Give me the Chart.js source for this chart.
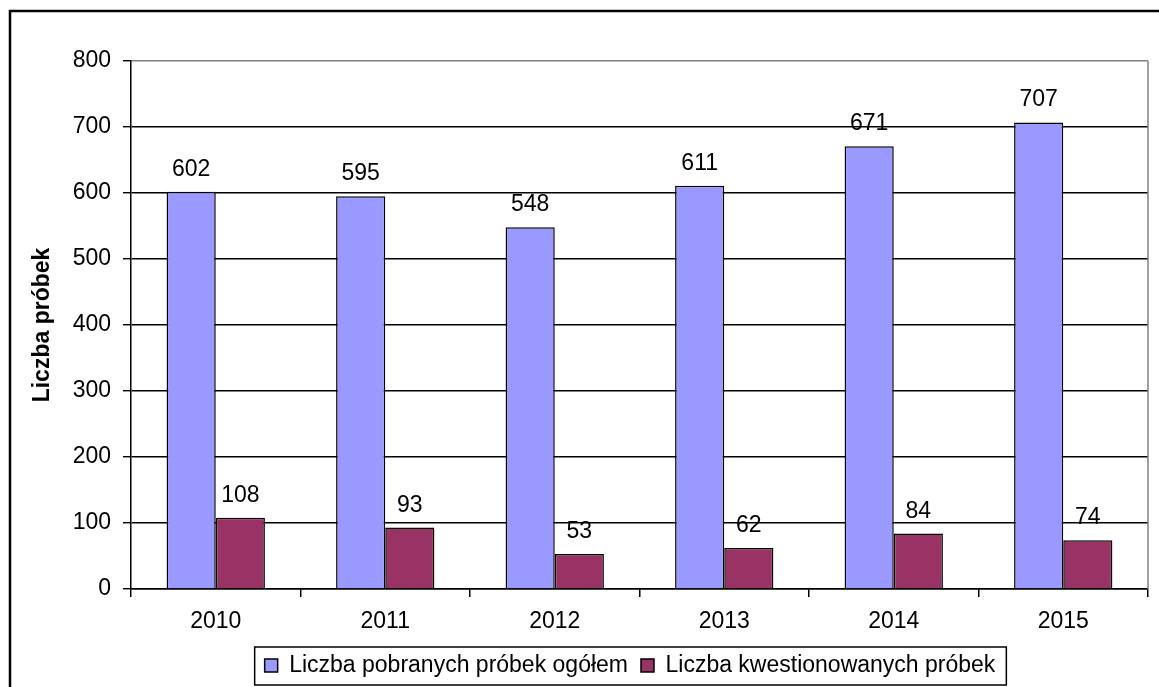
<!DOCTYPE html>
<html>
<head>
<meta charset="utf-8">
<script src="https://cdn.jsdelivr.net/npm/chart.js@4.4.1/dist/chart.umd.min.js"></script>
<style>
html,body{margin:0;padding:0;background:#fff;}
#wrap{position:relative;width:1159px;height:687px;overflow:hidden;}
</style>
</head>
<body>
<div id="wrap"><canvas id="c" width="1159" height="687"></canvas></div>
<script>
const categories = ['2010', '2011', '2012', '2013', '2014', '2015'];
const seriesNames = ['Liczba pobranych próbek ogółem', 'Liczba kwestionowanych próbek'];
const totalSamples = [602, 595, 548, 611, 671, 707];
const questionedSamples = [108, 93, 53, 62, 84, 74];
const yMin = 0, yMax = 800, yStep = 100;
const yTitle = 'Liczba próbek';

const FONT = "'Liberation Sans', Arial, sans-serif";
const FS = 23;
Chart.defaults.font.family = FONT;
Chart.defaults.color = '#000';

const framePlugin = {
  id: 'frame',
  beforeDraw(chart) {
    const ctx = chart.ctx;
    ctx.save();
    ctx.fillStyle = '#fff';
    ctx.fillRect(0, 0, chart.width, chart.height);
    ctx.strokeStyle = '#000';
    ctx.lineWidth = 2.5;
    ctx.beginPath();
    ctx.moveTo(10, chart.height);
    ctx.lineTo(10, 11);
    ctx.lineTo(chart.width, 11);
    ctx.stroke();
    ctx.restore();
  },
  beforeDatasetsDraw(chart) {
    const a = chart.chartArea, ctx = chart.ctx;
    ctx.save();
    ctx.strokeStyle = '#808080';
    ctx.lineWidth = 1.5;
    ctx.beginPath();
    ctx.moveTo(a.right, a.top);
    ctx.lineTo(a.right, a.bottom);
    ctx.stroke();
    ctx.restore();
  },
  afterLayout(chart) {
    const lg = chart.legend;
    const target = 630;
    const cur = (lg.left + lg.right) / 2;
    const d = target - cur;
    lg.left += d; lg.right += d;
  },
  afterDatasetsDraw(chart) {
    const ctx = chart.ctx;
    ctx.save();
    ctx.font = FS + 'px ' + FONT;
    ctx.fillStyle = '#000';
    ctx.textAlign = 'center';
    ctx.textBaseline = 'alphabetic';
    chart.data.datasets.forEach((ds, i) => {
      const meta = chart.getDatasetMeta(i);
      meta.data.forEach((bar, j) => {
        ctx.fillText(String(ds.data[j]), bar.x, bar.y - 16);
      });
    });
    ctx.restore();
  },
  afterDraw(chart) {
    const lg = chart.legend, ctx = chart.ctx;
    const pad = lg.options.labels.padding;
    const W = lg.lineWidths[0] - pad;
    const center = (lg.left + lg.right) / 2;
    const start = center - W / 2;
    ctx.save();
    ctx.strokeStyle = '#000';
    ctx.lineWidth = 1.5;
    ctx.strokeRect(start - 10, 647, W + 21, 38);
    ctx.restore();
  }
};

new Chart(document.getElementById('c'), {
  type: 'bar',
  data: {
    labels: categories,
    datasets: [
      { label: seriesNames[0], data: totalSamples, backgroundColor: '#9999FF', borderColor: '#000', borderWidth: 1.5,
        categoryPercentage: 0.58, barPercentage: 1.0 },
      { label: seriesNames[1], data: questionedSamples, backgroundColor: '#993366', borderColor: '#000', borderWidth: 1.5,
        categoryPercentage: 0.58, barPercentage: 1.0 }
    ]
  },
  options: {
    responsive: false,
    animation: false,
    devicePixelRatio: 1,
    layout: { padding: { left: 26, right: 11, top: 61, bottom: 0 } },
    plugins: {
      legend: {
        position: 'bottom',
        labels: { boxWidth: 13, boxHeight: 13, padding: 13, color: '#000', font: { size: FS } }
      },
      tooltip: { enabled: false }
    },
    scales: {
      x: {
        grid: { offset: true, drawOnChartArea: false, drawTicks: true, tickLength: 8, color: '#000', lineWidth: 1.5 },
        border: { color: '#000', width: 1.5 },
        ticks: { padding: 11, color: '#000', font: { size: FS } },
        afterFit(s) { s.height = 52; }
      },
      y: {
        min: yMin, max: yMax,
        ticks: { stepSize: yStep, padding: 12, color: '#000', font: { size: FS } },
        grid: {
          color: c => (c.tick && c.tick.value === yMax) ? '#808080' : '#000',
          tickColor: '#000', tickLength: 8, lineWidth: 1.4
        },
        border: { color: '#000', width: 1.5 },
        title: { display: true, text: yTitle, color: '#000', font: { size: FS, weight: 'bold' }, padding: { top: 3, bottom: 0 } },
        afterFit(s) { s.width = 105; }
      }
    }
  },
  plugins: [framePlugin]
});
</script>
</body>
</html>
